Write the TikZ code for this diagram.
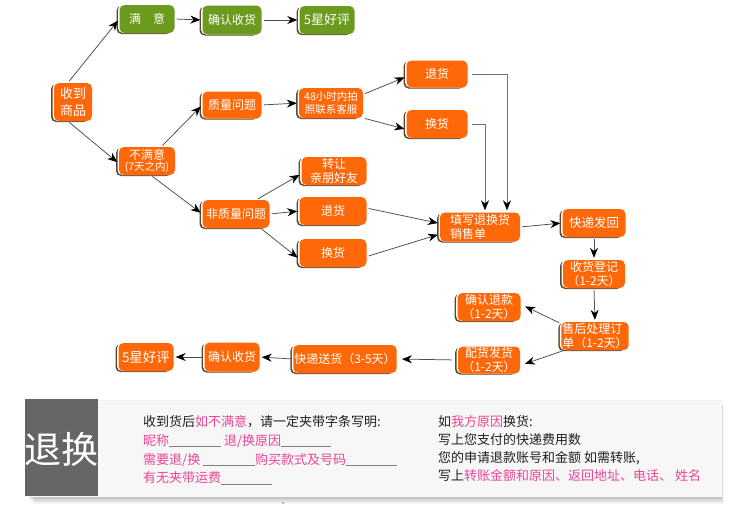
\documentclass[tikz,border=0pt]{standalone}
\usepackage{fontspec}
\setmainfont{Noto Sans CJK SC}
\usetikzlibrary{shadows,arrows.meta}
\definecolor{org}{RGB}{255,104,8}
\definecolor{grn}{RGB}{108,154,30}
\definecolor{shd}{RGB}{95,70,45}
\definecolor{pnk}{RGB}{236,70,150}
\definecolor{txt}{RGB}{30,30,30}
\definecolor{pan}{RGB}{247,247,247}
\definecolor{dbox}{RGB}{102,102,102}
\newcommand\myblank[1]{\textcolor{gray}{\rule[-1.5pt]{#1pt}{0.5pt}}}
\tikzset{
  box/.style={rounded corners=5pt, minimum height=28pt, inner sep=1pt, text=white,
    font=\fontsize{12}{13.5}\selectfont, align=center,
    general shadow={shadow xshift=-3pt, shadow yshift=-1pt, fill=shd},
    general shadow={shadow xshift=-1.5pt, fill=white}},
  obox/.style={box, fill=org},
  gbox/.style={box, fill=grn},
  arr/.style={-{Stealth[length=10pt,width=8pt,color=black]}, draw=black!70, line width=0.75pt,
    shorten >=2pt, shorten <=2pt},
  ptext/.style={anchor=west, inner sep=0pt, text=txt, font=\fontsize{13}{15}\selectfont},
}
\begin{document}
\begin{tikzpicture}[x=1pt,y=-1pt]
\useasboundingbox (0,0) rectangle (750,517);
\fill[white] (0,0) rectangle (750,517);

% ---------- bottom panel ----------
\foreach \i in {1,...,7} {
  \fill[black, opacity=0.035] (27+\i,399+\i) rectangle (721+0.4*\i,497+\i);
}
\fill[pan] (25,400) rectangle (722,497);
\draw[black!6] (98,400) -- (722,400);
\fill[dbox] (25,399) rectangle (98,496);
\node[inner sep=0pt, text=white, font=\fontsize{37}{40}\selectfont] (tk) at (61,449) {退换};
\fill[gray] (283,503) circle (0.8);

\node[ptext] (l1) at (143,422) {收到货后\textcolor{pnk}{如不满意}，请一定夹带字条写明:};
\node[ptext, text=pnk] (l2) at (143,441) {昵称\myblank{52} 退/换原因\myblank{50}};
\node[ptext, text=pnk] (l3) at (143,460) {需要退/换 \myblank{52}购买款式及号码\myblank{51}};
\node[ptext, text=pnk] (l4) at (143,478) {有无夹带运费\myblank{51}};

\node[ptext] (r1) at (438,422) {如\textcolor{pnk}{我方原因}换货:};
\node[ptext] (r2) at (438,440) {写上您支付的快递费用数};
\node[ptext] (r3) at (438,458) {您的申请退款账号和金额 如需转账,};
\node[ptext] (r4) at (438,476) {写上\textcolor{pnk}{转账金额和原因、返回地址、电话、 姓名}};

% ---------- nodes ----------
\node[obox, minimum width=38pt, minimum height=38pt, font=\fontsize{13}{17}\selectfont] (n1) at (73,102) {收到\\商品};
\node[gbox, minimum width=55pt] (ok) at (147,19) {满\quad 意};
\node[gbox, minimum width=59pt, minimum height=29pt] (ok2) at (232,20) {确认收货};
\node[gbox, minimum width=55pt, font=\fontsize{13}{14}\selectfont] (ok3) at (327,20) {5星好评};

\node[obox, minimum width=56pt] (bad) at (147,161) {不满意\\[-2pt]{\fontsize{10.5}{11}\selectfont (7天之内)}};
\node[obox, minimum width=59pt, minimum height=27pt] (q) at (232,105) {质量问题};
\node[obox, minimum width=64pt, minimum height=30pt, font=\fontsize{10.5}{13}\selectfont] (h48) at (331,103) {48小时内拍\\照联系客服};
\node[obox, minimum width=61pt, minimum height=27pt] (t1) at (437,74) {退货};
\node[obox, minimum width=61pt] (e1) at (437,124) {换货};

\node[obox, minimum width=67pt] (nq) at (236,214) {非质量问题};
\node[obox, minimum width=65pt] (zr) at (334,171) {转让\\亲朋好友};
\node[obox, minimum width=67pt] (t2) at (333,211) {退货};
\node[obox, minimum width=67pt] (e2) at (333,253) {换货};

\node[obox, minimum width=80pt, minimum height=29pt, align=left] (fill) at (480,227) {填写退换货\\销售单};
\node[obox, minimum width=63pt, font=\fontsize{12.5}{14}\selectfont] (kd) at (594,223) {快递发回};
\node[obox, minimum width=62pt] (sh) at (594,274) {收货登记\\（1-2天）};
\node[obox, minimum width=60pt, align=left] (after) at (595,336) {售后处理订\\单（1-2天）};
\node[obox, minimum width=63pt] (rf) at (489,307) {确认退款\\（1-2天）};
\node[obox, minimum width=62pt, minimum height=27pt] (ph) at (489,360) {配货发货\\（1-2天）};
\node[obox, minimum width=93pt] (ks) at (345,359) {快递送货（3-5天）};
\node[obox, minimum width=55pt, minimum height=29pt] (ok4) at (232,357) {确认收货};
\node[obox, minimum width=55pt, font=\fontsize{13.5}{14}\selectfont] (ok5) at (146,357) {5星好评};

% ---------- connectors ----------
\draw[arr] (n1.105) -- (ok.west);
\draw[arr] (n1.255) -- (bad.185);
\draw[arr] (ok.east) -- (ok2.west);
\draw[arr] (ok2.east) -- (ok3.west);
\draw[arr] (bad.45) -- (q.west);
\draw[arr] (q.east) -- (h48.west);
\draw[arr] (h48.15) -- (t1.185);
\draw[arr] (h48.-25) -- (e1.190);
\draw[arr, draw=black!55, shorten <=4pt] (t1.east) -| ([xshift=27pt]fill.north);
\draw[arr, draw=black!55, shorten <=4pt] (e1.east) -| ([xshift=5pt]fill.north);
\draw[arr] (bad.-75) -- (nq.west);
\draw[arr] (nq.35) -- (zr.185);
\draw[arr] (nq.east) -- (t2.west);
\draw[arr] (nq.-30) -- (e2.190);
\draw[arr] (t2.5) -- (fill.175);
\draw[arr] (e2.-6) -- (fill.190);
\draw[arr] (fill.east) -- (kd.west);
\draw[arr] (kd.south) -- (sh.north);
\draw[arr] (sh.south) -- (after.north);
\draw[arr, shorten >=5pt] (after.160) -- (rf.5);
\draw[arr, shorten >=5pt] (after.205) -- (ph.-10);
\draw[arr, shorten <=6pt, shorten >=5pt] (ph.west) -- (ks.east);
\draw[arr] (ks.west) -- (ok4.east);
\draw[arr] (ok4.west) -- (ok5.east);
\end{tikzpicture}
\end{document}
